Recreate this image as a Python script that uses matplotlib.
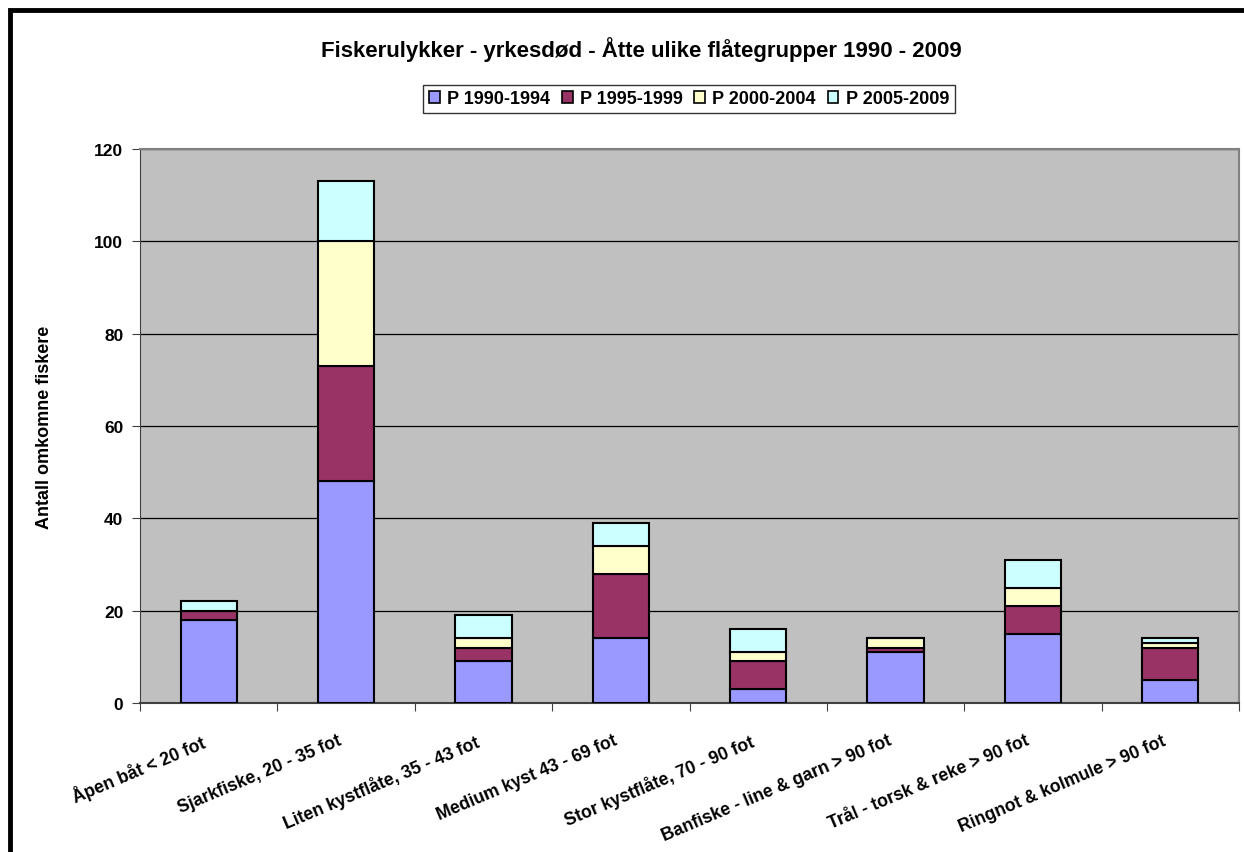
import matplotlib
matplotlib.use("Agg")
import matplotlib.pyplot as plt
from matplotlib.patches import Rectangle
import numpy as np

plt.rcParams['font.family'] = ['Liberation Sans', 'DejaVu Sans']
plt.rcParams['font.weight'] = 'bold'

categories = ["Åpen båt < 20 fot", "Sjarkfiske, 20 - 35 fot", "Liten kystflåte, 35 - 43 fot",
              "Medium kyst 43 - 69 fot", "Stor kystflåte, 70 - 90 fot",
              "Banfiske - line & garn > 90 fot", "Trål - torsk & reke > 90 fot",
              "Ringnot & kolmule > 90 fot"]
series_names = ["P 1990-1994", "P 1995-1999", "P 2000-2004", "P 2005-2009"]
p1990 = [18, 48, 9, 14, 3, 11, 15, 5]
p1995 = [2, 25, 3, 14, 6, 1, 6, 7]
p2000 = [0, 27, 2, 6, 2, 2, 4, 1]
p2005 = [2, 13, 5, 5, 5, 0, 6, 1]
colors = ["#9999FF", "#993366", "#FFFFCC", "#CCFFFF"]
yticks = [0, 20, 40, 60, 80, 100, 120]

W, H = 1244, 853
fig = plt.figure(figsize=(W/100, H/100), dpi=100)
ax = fig.add_axes([140/W, 1-704/H, 1099/W, 554/H])
ax.set_facecolor("#C0C0C0")

x = np.arange(len(categories))
bottom = np.zeros(len(categories))
for vals, name, c in zip([p1990, p1995, p2000, p2005], series_names, colors):
    v = np.array(vals, dtype=float)
    ax.bar(x, v, width=0.41, bottom=bottom, color=c, edgecolor="black", linewidth=1.5,
           label=name, zorder=3)
    bottom += v

ax.set_xlim(-0.5, len(categories)-0.5)
ax.set_ylim(0, 120)
ax.set_yticks(yticks)
ax.set_yticklabels([str(t) for t in yticks], fontsize=12.5, fontweight='bold')
ax.yaxis.grid(True, color="black", linewidth=0.9, zorder=0)
ax.set_axisbelow(True)
ax.set_xticks(np.arange(len(categories)+1) - 0.5, minor=False)
ax.set_xticklabels([])
ax.tick_params(axis='x', length=6, direction='out', color='#404040')
ax.tick_params(axis='y', length=6, direction='out', color='#404040', pad=6)
for i, lab in enumerate(categories):
    ax.text(i - 0.06, -0.052, lab, transform=ax.get_xaxis_transform(), rotation=23,
            rotation_mode='anchor', ha='right', va='top', fontsize=12.7, fontweight='bold')

for s in ['top', 'right']:
    ax.spines[s].set_color('#808080')
    ax.spines[s].set_linewidth(1.5)
ax.spines['left'].set_color('#404040')
ax.spines['bottom'].set_color('#404040')
ax.spines['bottom'].set_linewidth(1.5)

fig.text(45/W, 1-427/H, "Antall omkomne fiskere", rotation=90, ha='center', va='center',
         fontsize=13, fontweight='bold')

fig.text(641/W, 1-50/H, "Fiskerulykker - yrkesdød - Åtte ulike flåtegrupper 1990 - 2009",
         ha='center', va='center', fontsize=16, fontweight='bold')

leg = fig.legend(loc='center', bbox_to_anchor=(689/W, 1-100/H), ncol=4, frameon=True,
                 fancybox=False, edgecolor='black', handlelength=0.6,
                 handleheight=0.6, handletextpad=0.4, columnspacing=0.65,
                 borderpad=0.3, borderaxespad=0, prop={'weight': 'bold', 'size': 13})
leg.get_frame().set_linewidth(1.0)
for h in leg.legend_handles:
    h.set_linewidth(1.2)

# outer chart border (left and top visible)
fig.add_artist(Rectangle((9.5/W, -0.1), 2.0, 1.1 - 11.5/H, transform=fig.transFigure,
                         fill=False, edgecolor='black', linewidth=3.5))

fig.savefig("out.png", dpi=100, facecolor='white')
